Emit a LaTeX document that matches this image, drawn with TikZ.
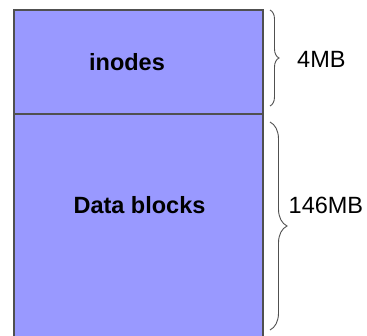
\documentclass[tikz,border=0pt]{standalone}
\usepackage{fontspec}
\setmainfont{Liberation Sans}
\usetikzlibrary{decorations.pathreplacing}
\definecolor{blockfill}{RGB}{153,153,255}
\definecolor{edgegray}{RGB}{80,80,80}
\tikzset{
    region/.style={draw=edgegray, fill=blockfill, line width=1.2pt,
                   minimum width=249pt, inner sep=0pt, outer sep=0pt},
    title/.style={font=\fontsize{23.5}{28}\selectfont\bfseries,
                  inner sep=0pt, anchor=base},
    amount/.style={font=\fontsize{23.5}{28}\selectfont,
                   inner sep=0pt, anchor=base west},
    sizebrace/.style={decorate, decoration={brace, amplitude=#1},
                      draw=edgegray, line width=0.9pt},
}
\begin{document}
\begin{tikzpicture}[x=1pt, y=1pt]

    \useasboundingbox (0,0) rectangle (367,335);
    \node[region, minimum height=104pt] (inodes) at (138.5,273) {};
    \node[region, minimum height=222.5pt, anchor=north] (data) at (inodes.south) {};
    \node[title] (inodestext) at (127,264.3) {inodes};
    \node[title] (datatext) at (139.5,121) {Data blocks};
    \draw[sizebrace=9pt] ([xshift=7pt]inodes.north east)
        -- ([xshift=7pt, yshift=8pt]inodes.south east);
    \draw[sizebrace=17pt] ([xshift=7pt, yshift=-8pt]data.north east)
        -- ([xshift=7pt, yshift=6.5pt]data.south east);
    \node[amount] (inodessize) at (297,267) {4MB};
    \node[amount] (datasize) at (288.5,121) {146MB};

\end{tikzpicture}
\end{document}
